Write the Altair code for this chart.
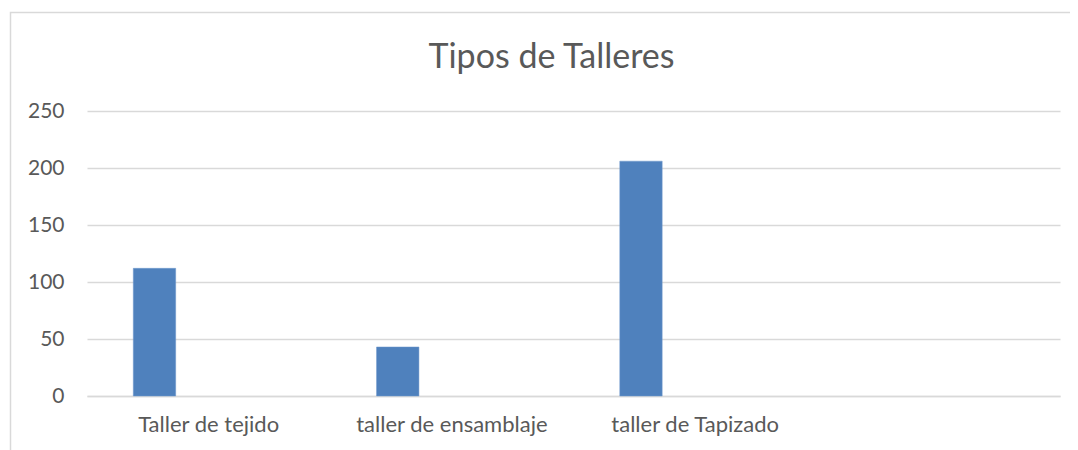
import altair as alt
import pandas as pd

title_text = "Tipos de Talleres"
categories = ["Taller de tejido", "taller de ensamblaje", "taller de Tapizado", " "]
series_names = ["Serie1", "Serie2", "Serie3"]
values = [112, 43, 206]

df = pd.DataFrame({
    "categoria": categories[:3],
    "serie": ["Serie1"] * 3,
    "valor": values,
})

GRAY_TEXT = "#595959"
GRID = "#d9d9d9"
FONT = "Lato"

bars = alt.Chart(df).mark_bar(color="#4f81bd", stroke="#6f98cc", strokeWidth=0.5).encode(
    x=alt.X("categoria:N", sort=categories,
            scale=alt.Scale(domain=categories, paddingInner=0, paddingOuter=0),
            axis=alt.Axis(title=None, labelAngle=0, labelFont=FONT, labelFontSize=22,
                          labelColor=GRAY_TEXT, ticks=False, domain=True,
                          domainColor=GRID, domainWidth=1.5, labelPadding=18,
                          labelBaseline="top", labelLimit=0)),
    xOffset=alt.XOffset("serie:N",
                        scale=alt.Scale(domain=series_names, paddingInner=0.217, paddingOuter=0.855)),
    y=alt.Y("valor:Q",
            scale=alt.Scale(domain=[0, 250], nice=False),
            axis=alt.Axis(title=None, values=[0, 50, 100, 150, 200, 250], labelFont=FONT,
                          labelFontSize=21, labelColor=GRAY_TEXT, ticks=False, domain=False,
                          gridColor=GRID, gridWidth=1.5, labelPadding=23)),
)

one = pd.DataFrame({"t": [title_text]})
frame = alt.Chart(one).mark_rect(fill="transparent", stroke=GRID, strokeWidth=1.5).encode(
    x=alt.value(-76.5), x2=alt.value(1200), y=alt.value(-98.5), y2=alt.value(600)
)
title = alt.Chart(one).mark_text(font=FONT, fontSize=34, color=GRAY_TEXT, align="center",
                                 baseline="alphabetic").encode(
    text="t:N", x=alt.value(464.5), y=alt.value(-43)
)

chart = alt.layer(frame, bars, title).properties(
    width=973,
    height=285,
    autosize=alt.AutoSizeParams(type="none"),
    padding={"left": 79, "top": 103, "right": 10, "bottom": 60},
).configure(background="white").configure_view(stroke=None)

chart.save("out.html", embed_options={"renderer": "svg", "actions": False})
